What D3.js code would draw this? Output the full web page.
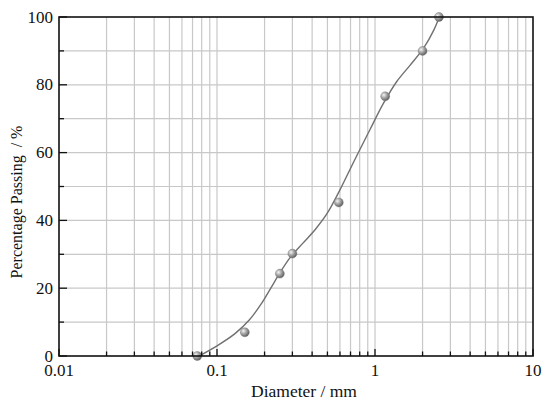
<!DOCTYPE html>
<html><head><meta charset="utf-8">
<script src="https://cdn.jsdelivr.net/npm/d3@7"></script>
<style>body{margin:0;background:#fff;}svg{display:block;}text{font-family:"Liberation Serif","Times New Roman",serif;}</style>
</head><body>
<script>
// measured points
const diameters = [0.075, 0.15, 0.25, 0.3, 0.59, 1.16, 2.0, 2.54];
const passing   = [0, 7, 24.3, 30.2, 45.3, 76.6, 90, 100];
// fitted curve
const curveD = [0.077, 0.1, 0.13, 0.16, 0.19, 0.22, 0.25, 0.29, 0.35, 0.42, 0.5, 0.6, 0.75, 0.93, 1.13, 1.37, 1.67, 2.03, 2.36, 2.55];
const curveP = [0, 3.0, 6.6, 10.6, 15.3, 20.2, 24.5, 29.0, 33.3, 37.4, 42.2, 49.0, 58.2, 66.8, 74.5, 80.9, 85.8, 90.8, 96.2, 100];
const xTickValues = [0.01, 0.1, 1, 10];
const xTickLabels = ["0.01", "0.1", "1", "10"];
const yTickValues = [0, 20, 40, 60, 80, 100];

const W = 550, H = 405;
const m = {l: 59, t: 17, r: 533, b: 356};
const svg = d3.select("body").append("svg").attr("width", W).attr("height", H);

const x = d3.scaleLog().domain([0.01, 10]).range([m.l, m.r]);
const y = d3.scaleLinear().domain([0, 100]).range([m.b, m.t]);

const defs = svg.append("defs");
const g = defs.append("radialGradient").attr("id", "ball").attr("cx", "35%").attr("cy", "35%").attr("r", "70%");
g.append("stop").attr("offset", "0%").attr("stop-color", "#f4f4f4");
g.append("stop").attr("offset", "45%").attr("stop-color", "#a8a8a8");
g.append("stop").attr("offset", "100%").attr("stop-color", "#5a5a5a");

const xAll = [];
for (let e = -2; e < 1; e++) for (let k = 1; k < 10; k++) xAll.push(+(k * Math.pow(10, e)).toPrecision(3));
xAll.push(10);
const yAll = d3.range(0, 101, 10);

const grid = svg.append("g");
grid.selectAll("line.gx").data(xAll.filter(v => v > 0.01 && v < 10)).enter().append("line")
  .attr("x1", d => x(d)).attr("x2", d => x(d)).attr("y1", m.t).attr("y2", m.b)
  .attr("stroke", "#c8c8c8").attr("stroke-width", 1.2);
grid.selectAll("line.gy").data(yAll.filter(v => v > 0 && v < 100)).enter().append("line")
  .attr("x1", m.l).attr("x2", m.r).attr("y1", d => y(d)).attr("y2", d => y(d))
  .attr("stroke", "#c8c8c8").attr("stroke-width", 1.2);

// curve
const line = d3.line().x(d => x(d[0])).y(d => y(d[1])).curve(d3.curveCatmullRom.alpha(0.5));
svg.append("path").datum(curveD.map((d, i) => [d, curveP[i]]))
  .attr("d", line).attr("fill", "none").attr("stroke", "#707070").attr("stroke-width", 1.4);

// markers
svg.selectAll("circle.pt").data(diameters.map((d, i) => [d, passing[i]])).enter().append("circle")
  .attr("cx", d => x(d[0])).attr("cy", d => y(d[1])).attr("r", 4.5)
  .attr("fill", "url(#ball)").attr("stroke", "#777").attr("stroke-width", 0.4);

// frame
svg.append("rect").attr("x", m.l).attr("y", m.t).attr("width", m.r - m.l).attr("height", m.b - m.t)
  .attr("fill", "none").attr("stroke", "#111").attr("stroke-width", 1.6);

// x ticks (inward)
const xt = svg.append("g");
xt.selectAll("line").data(xAll).enter().append("line")
  .attr("x1", d => x(d)).attr("x2", d => x(d)).attr("y1", m.b)
  .attr("y2", d => xTickValues.includes(d) ? m.b - 7 : m.b - 4.5)
  .attr("stroke", "#111").attr("stroke-width", 1.3);
xt.selectAll("text").data(xTickValues).enter().append("text")
  .attr("x", d => x(d)).attr("y", m.b + 20).attr("text-anchor", "middle")
  .attr("font-size", 17).attr("fill", "#111").text((d, i) => xTickLabels[i]);

// y ticks
const yt = svg.append("g");
yt.selectAll("line").data(yAll).enter().append("line")
  .attr("x1", m.l).attr("x2", d => yTickValues.includes(d) ? m.l + 8 : m.l + 5)
  .attr("y1", d => y(d)).attr("y2", d => y(d)).attr("stroke", "#111").attr("stroke-width", 1.3);
yt.selectAll("text").data(yTickValues).enter().append("text")
  .attr("x", m.l - 6).attr("y", d => y(d) + 5.5).attr("text-anchor", "end")
  .attr("font-size", 17).attr("fill", "#111").text(d => d);

// axis titles
svg.append("text").attr("x", 304).attr("y", 397).attr("text-anchor", "middle")
  .attr("font-size", 17.5).attr("fill", "#111").text("Diameter / mm");
svg.append("text").attr("transform", "translate(22,202) rotate(-90)").attr("text-anchor", "middle")
  .attr("font-size", 16).attr("fill", "#111").attr("xml:space", "preserve").style("white-space", "pre")
  .text("Percentage Passing  / %");
</script>
</body></html>
